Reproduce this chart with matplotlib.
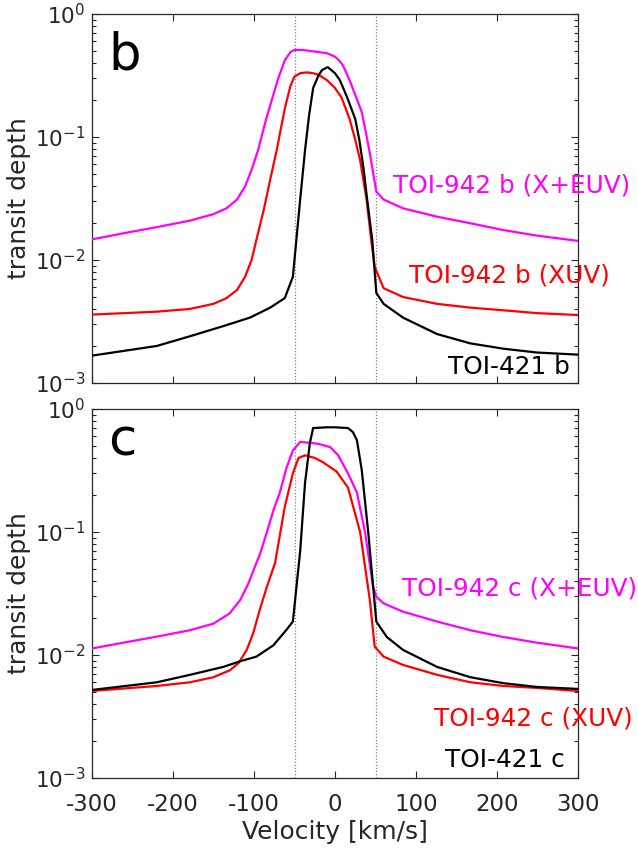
import matplotlib
matplotlib.use("Agg")
import matplotlib.pyplot as plt
from matplotlib.ticker import LogLocator, FixedLocator

plt.rcParams['font.family'] = ['DejaVu Sans']
plt.rcParams['mathtext.fontset'] = 'dejavusans'
plt.rcParams['axes.unicode_minus'] = False

# ---------------- data ----------------
# panel b
b_euv_v = [-300, -261, -220, -179, -150, -134, -121, -111, -103, -95, -85, -78, -70, -62, -55, -50, -40, -30, -20,
           -10, 0, 5, 10, 18, 25, 33, 38, 43, 51, 60, 84, 126, 167, 208, 249, 300]
b_euv_d = [0.0147, 0.0165, 0.0185, 0.0209, 0.0236, 0.0263, 0.031, 0.0396, 0.054, 0.078, 0.14, 0.2, 0.3, 0.42,
           0.49, 0.51, 0.51, 0.5, 0.49, 0.48, 0.45, 0.42, 0.38, 0.29, 0.22, 0.16, 0.11, 0.074, 0.036, 0.031,
           0.0263, 0.0225, 0.0199, 0.0175, 0.0158, 0.0143]

b_xuv_v = [-300, -220, -179, -150, -134, -121, -111, -103, -97, -88, -80, -72, -62, -55, -50, -43, -35, -27, -20,
           -10, 0, 8, 18, 25, 31, 39, 45, 49, 60, 84, 126, 167, 208, 249, 300]
b_xuv_d = [0.0036, 0.0038, 0.004, 0.0044, 0.0049, 0.0057, 0.0073, 0.010, 0.0146, 0.0255, 0.045, 0.078, 0.17,
           0.26, 0.31, 0.33, 0.335, 0.33, 0.32, 0.29, 0.25, 0.21, 0.14, 0.095, 0.065, 0.031, 0.014, 0.0088,
           0.0059, 0.005, 0.0044, 0.0041, 0.0039, 0.0037, 0.00357]

b_421_v = [-300, -220, -179, -138, -105, -80, -62, -52, -43, -37, -32, -27, -20, -16, -9, 0, 6, 15, 25, 30, 35, 40,
           46, 51, 60, 84, 126, 167, 208, 249, 300]
b_421_d = [0.00167, 0.002, 0.0024, 0.0029, 0.0034, 0.0041, 0.0049, 0.0073, 0.031, 0.078, 0.15, 0.25, 0.32, 0.35,
           0.37, 0.33, 0.29, 0.21, 0.14, 0.095, 0.057, 0.03, 0.0145, 0.0054, 0.0044, 0.0034, 0.0025, 0.0021,
           0.0019, 0.00177, 0.0017]

# panel c
c_euv_v = [-300, -261, -220, -179, -150, -130, -117, -107, -99, -93, -84, -76, -68, -60, -52, -43, -30, -20, -6, 4,
           16, 27, 37, 47, 51, 60, 84, 126, 167, 208, 249, 300]
c_euv_d = [0.0113, 0.0126, 0.0141, 0.0159, 0.018, 0.0218, 0.028, 0.038, 0.052, 0.065, 0.1, 0.15, 0.21, 0.33,
           0.46, 0.54, 0.53, 0.52, 0.49, 0.42, 0.30, 0.21, 0.1, 0.036, 0.0298, 0.0263, 0.0225, 0.0187, 0.0159,
           0.014, 0.0126, 0.0113]

c_xuv_v = [-300, -220, -179, -150, -130, -119, -109, -101, -93, -84, -74, -62, -52, -45, -37, -25, -15, 2, 16, 31,
           43, 49, 60, 84, 126, 167, 208, 249, 300]
c_xuv_d = [0.0051, 0.0056, 0.006, 0.0066, 0.0075, 0.0086, 0.011, 0.015, 0.0232, 0.036, 0.056, 0.16, 0.30, 0.40,
           0.42, 0.40, 0.37, 0.31, 0.23, 0.1, 0.028, 0.0117, 0.0097, 0.0083, 0.0069, 0.006, 0.0056, 0.0054,
           0.0051]

c_421_v = [-300, -220, -179, -138, -117, -97, -76, -60, -52, -43, -37, -31, -27, -10, 0, 16, 22, 27, 33, 41, 51,
           64, 84, 126, 167, 208, 249, 300]
c_421_d = [0.0052, 0.006, 0.0069, 0.008, 0.0089, 0.0097, 0.012, 0.016, 0.0187, 0.07, 0.25, 0.53, 0.70, 0.71,
           0.71, 0.70, 0.65, 0.56, 0.32, 0.1, 0.0187, 0.014, 0.011, 0.008, 0.0066, 0.0059, 0.0055, 0.0053]

x_ticks = [-300, -200, -100, 0, 100, 200, 300]
v_lines = [-50, 50]
panel_letters = ['b', 'c']
labels_b = ['TOI-942 b (X+EUV)', 'TOI-942 b (XUV)', 'TOI-421 b']
labels_c = ['TOI-942 c (X+EUV)', 'TOI-942 c (XUV)', 'TOI-421 c']

# ---------------- figure ----------------
W, H = 638, 855
fig = plt.figure(figsize=(W / 100, H / 100), dpi=100)

spine_c = '#262626'
ax1 = fig.add_axes([92 / W, 1 - 383 / H, 486 / W, 369 / H])
ax2 = fig.add_axes([92 / W, 1 - 778 / H, 486 / W, 369 / H])

series = [
    (ax1, [(b_euv_v, b_euv_d, '#ff00ff'), (b_xuv_v, b_xuv_d, '#ff0000'), (b_421_v, b_421_d, 'black')]),
    (ax2, [(c_euv_v, c_euv_d, '#ff00ff'), (c_xuv_v, c_xuv_d, '#ff0000'), (c_421_v, c_421_d, 'black')]),
]

for ax, ss in series:
    for vx in v_lines:
        ax.axvline(vx, color='#808080', linestyle=(0, (1, 1.5)), linewidth=0.9, zorder=1)
    for v, d, c in ss:
        ax.plot(v, d, color=c, linewidth=1.6, zorder=3)
    ax.set_yscale('log')
    ax.set_xlim(-300, 300)
    ax.set_ylim(1e-3, 1e0)
    ax.xaxis.set_major_locator(FixedLocator(x_ticks))
    ax.yaxis.set_major_locator(LogLocator(base=10, numticks=10))
    ax.yaxis.set_minor_locator(LogLocator(base=10, subs=range(2, 10), numticks=20))
    ax.tick_params(which='both', direction='in', top=True, right=True, colors=spine_c, width=0.8)
    ax.tick_params(which='major', length=5)
    ax.tick_params(which='minor', length=3)
    ax.tick_params(axis='x', pad=11, labelsize=16.5)
    ax.tick_params(axis='y', pad=5, labelsize=15.5)
    for sp in ax.spines.values():
        sp.set_color(spine_c)
        sp.set_linewidth(0.9)
    ax.set_ylabel('transit depth', fontsize=18, color=spine_c)
    ax.yaxis.set_label_coords(-0.125, 0.5)

ax1.tick_params(labelbottom=False)
ax2.set_xlabel('Velocity [km/s]', fontsize=18, color=spine_c)
ax2.xaxis.set_label_coords(0.5, -0.115)

# panel letters
fig.text(108 / W, 1 - 70 / H, panel_letters[0], fontsize=37, ha='left', va='baseline')
fig.text(108 / W, 1 - 455 / H, panel_letters[1], fontsize=37, ha='left', va='baseline')

# curve labels
fs = 17.8
fig.text(630 / W, 1 - 185 / H, labels_b[0], color='#ff00ff', fontsize=fs, ha='right', va='center')
fig.text(610 / W, 1 - 275 / H, labels_b[1], color='#ff0000', fontsize=fs, ha='right', va='center')
fig.text(570 / W, 1 - 367 / H, labels_b[2], color='black', fontsize=fs, ha='right', va='center')
fig.text(637 / W, 1 - 588 / H, labels_c[0], color='#ff00ff', fontsize=fs, ha='right', va='center')
fig.text(633 / W, 1 - 718 / H, labels_c[1], color='#ff0000', fontsize=fs, ha='right', va='center')
fig.text(565 / W, 1 - 760 / H, labels_c[2], color='black', fontsize=fs, ha='right', va='center')

fig.savefig('out.png', dpi=100)
